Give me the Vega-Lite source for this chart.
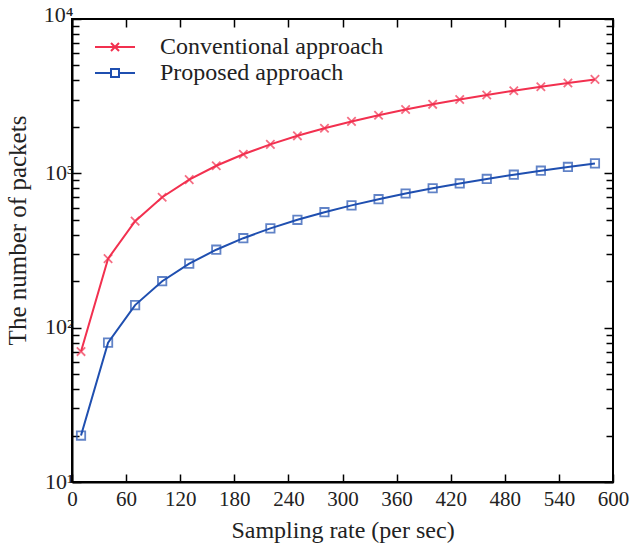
{
  "$schema": "https://vega.github.io/schema/vega-lite/v6.json",
  "width": 541,
  "height": 463,
  "autosize": {"type": "none"},
  "padding": {"left": 72, "top": 19, "right": 17, "bottom": 67},
  "background": "white",
  "config": {
    "font": "Liberation Serif",
    "view": {"stroke": "black", "strokeWidth": 2},
    "axis": {
      "labelFont": "Liberation Serif",
      "titleFont": "Liberation Serif",
      "labelFontSize": 21,
      "titleFontSize": 24,
      "titleFontWeight": "normal",
      "labelColor": "#222",
      "titleColor": "#222",
      "domainColor": "black",
      "domainWidth": 2,
      "tickColor": "black",
      "tickWidth": 1.5,
      "grid": false
    }
  },
  "data": {
    "values": [
      {"x": 10, "y": 70, "s": "Conventional approach"},
      {"x": 40, "y": 280, "s": "Conventional approach"},
      {"x": 70, "y": 490, "s": "Conventional approach"},
      {"x": 100, "y": 700, "s": "Conventional approach"},
      {"x": 130, "y": 910, "s": "Conventional approach"},
      {"x": 160, "y": 1120, "s": "Conventional approach"},
      {"x": 190, "y": 1330, "s": "Conventional approach"},
      {"x": 220, "y": 1540, "s": "Conventional approach"},
      {"x": 250, "y": 1750, "s": "Conventional approach"},
      {"x": 280, "y": 1960, "s": "Conventional approach"},
      {"x": 310, "y": 2170, "s": "Conventional approach"},
      {"x": 340, "y": 2380, "s": "Conventional approach"},
      {"x": 370, "y": 2590, "s": "Conventional approach"},
      {"x": 400, "y": 2800, "s": "Conventional approach"},
      {"x": 430, "y": 3010, "s": "Conventional approach"},
      {"x": 460, "y": 3220, "s": "Conventional approach"},
      {"x": 490, "y": 3430, "s": "Conventional approach"},
      {"x": 520, "y": 3640, "s": "Conventional approach"},
      {"x": 550, "y": 3850, "s": "Conventional approach"},
      {"x": 580, "y": 4060, "s": "Conventional approach"},
      {"x": 10, "y": 20, "s": "Proposed approach"},
      {"x": 40, "y": 80, "s": "Proposed approach"},
      {"x": 70, "y": 140, "s": "Proposed approach"},
      {"x": 100, "y": 200, "s": "Proposed approach"},
      {"x": 130, "y": 260, "s": "Proposed approach"},
      {"x": 160, "y": 320, "s": "Proposed approach"},
      {"x": 190, "y": 380, "s": "Proposed approach"},
      {"x": 220, "y": 440, "s": "Proposed approach"},
      {"x": 250, "y": 500, "s": "Proposed approach"},
      {"x": 280, "y": 560, "s": "Proposed approach"},
      {"x": 310, "y": 620, "s": "Proposed approach"},
      {"x": 340, "y": 680, "s": "Proposed approach"},
      {"x": 370, "y": 740, "s": "Proposed approach"},
      {"x": 400, "y": 800, "s": "Proposed approach"},
      {"x": 430, "y": 860, "s": "Proposed approach"},
      {"x": 460, "y": 920, "s": "Proposed approach"},
      {"x": 490, "y": 980, "s": "Proposed approach"},
      {"x": 520, "y": 1040, "s": "Proposed approach"},
      {"x": 550, "y": 1100, "s": "Proposed approach"},
      {"x": 580, "y": 1160, "s": "Proposed approach"}
    ]
  },
  "resolve": {"axis": {"x": "independent", "y": "independent"}},
  "layer": [
    {
      "mark": {"type": "line", "strokeWidth": 2},
      "encoding": {
        "x": {
          "field": "x", "type": "quantitative",
          "scale": {"domain": [0, 600], "nice": false},
          "axis": {
            "title": "Sampling rate (per sec)",
            "values": [0, 60, 120, 180, 240, 300, 360, 420, 480, 540, 600],
            "tickSize": -8,
            "labelPadding": 14,
            "titlePadding": 9,
            "labelFlush": false
          }
        },
        "y": {
          "field": "y", "type": "quantitative",
          "scale": {"type": "log", "domain": [10, 10000], "nice": false},
          "axis": {
            "title": "The number of packets",
            "titleFontSize": 25,
            "titleY": 211,
            "values": [10, 20, 30, 40, 50, 60, 70, 80, 90, 100, 200, 300, 400, 500, 600, 700, 800, 900, 1000, 2000, 3000, 4000, 5000, 6000, 7000, 8000, 9000, 10000],
            "labelExpr": "datum.value == 10 ? '10¹' : datum.value == 100 ? '10²' : datum.value == 1000 ? '10³' : datum.value == 10000 ? '10⁴' : ''",
            "labelFontSize": 22,
            "labelBaseline": "alphabetic",
            "labelOffset": {"condition": {"test": "datum.value == 10000", "value": 2}, "value": 6},
            "tickSize": {"condition": {"test": "datum.value == 10 || datum.value == 100 || datum.value == 1000 || datum.value == 10000", "value": -9}, "value": -7},
            "labelPadding": 8,
            "titlePadding": 13,
            "labelFlush": false
          }
        },
        "color": {
          "field": "s", "type": "nominal",
          "scale": {"domain": ["Conventional approach", "Proposed approach"], "range": ["#f2304f", "#1f4fb0"]},
          "legend": {
            "orient": "none",
            "legendX": 31,
            "legendY": 16,
            "title": null,
            "labelFont": "Liberation Serif",
            "labelFontSize": 24,
            "labelColor": "#222",
            "labelLimit": 400,
            "labelOffset": 33,
            "rowPadding": 2,
            "symbolSize": 100,
            "symbolStrokeWidth": 2,
            "symbolFillColor": "transparent",
            "encode": {
              "symbols": {
                "update": {
                  "shape": {"signal": "datum.value == 'Conventional approach' ? 'M-4,0H4M-0.8,-0.8L0.8,0.8M-0.8,0.8L0.8,-0.8' : 'M-4,0H-0.8M0.8,0H4M-0.8,-0.8H0.8V0.8H-0.8Z'"},
                  "fill": {"value": "transparent"}
                }
              }
            }
          }
        }
      }
    },
    {
      "transform": [{"filter": "datum.s == 'Conventional approach'"}],
      "mark": {"type": "point", "filled": false, "size": 70, "strokeWidth": 1.8, "shape": "M-1,-1L1,1M-1,1L1,-1", "color": "#f2304f"},
      "encoding": {
        "x": {"field": "x", "type": "quantitative", "axis": {"orient": "top", "labels": false, "title": null, "values": [0, 60, 120, 180, 240, 300, 360, 420, 480, 540, 600], "tickSize": -8, "domain": false}},
        "y": {"field": "y", "type": "quantitative", "axis": {"orient": "right", "labels": false, "title": null, "domain": false,
          "values": [10, 20, 30, 40, 50, 60, 70, 80, 90, 100, 200, 300, 400, 500, 600, 700, 800, 900, 1000, 2000, 3000, 4000, 5000, 6000, 7000, 8000, 9000, 10000],
          "tickSize": {"condition": {"test": "datum.value == 10 || datum.value == 100 || datum.value == 1000 || datum.value == 10000", "value": -9}, "value": -7}}}
      }
    },
    {
      "transform": [{"filter": "datum.s == 'Proposed approach'"}],
      "mark": {"type": "point", "filled": false, "size": 70, "strokeWidth": 1.8, "shape": "square", "color": "#1f4fb0"},
      "encoding": {
        "x": {"field": "x", "type": "quantitative", "axis": null},
        "y": {"field": "y", "type": "quantitative", "axis": null}
      }
    }
  ]
}
